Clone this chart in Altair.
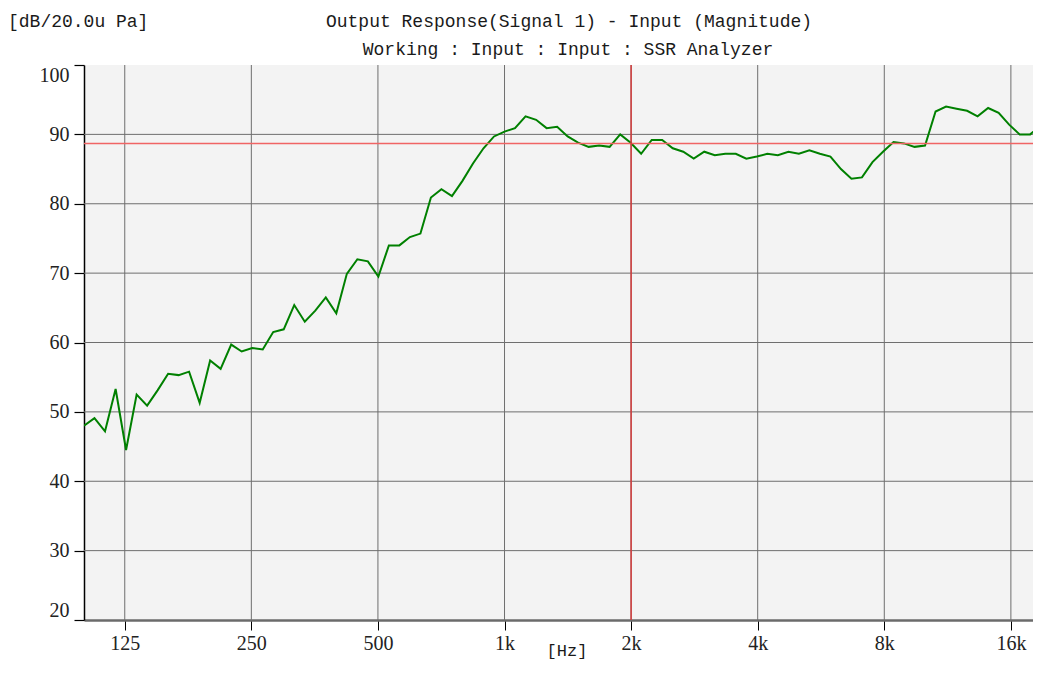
import altair as alt
import pandas as pd

# 1/12-octave analysis frequencies (Hz)
freq_hz = [100.0, 105.9, 112.2, 118.9, 125.9, 133.4, 141.3, 149.6, 158.5, 167.9,
           177.8, 188.4, 199.5, 211.3, 223.9, 237.1, 251.2, 266.1, 281.8, 298.5,
           316.2, 335.0, 354.8, 375.8, 398.1, 421.7, 446.7, 473.2, 501.2, 530.9,
           562.3, 595.7, 631.0, 668.3, 707.9, 749.9, 794.3, 841.4, 891.3, 944.1,
           1000, 1059, 1122, 1189, 1259, 1334, 1413, 1496, 1585, 1679,
           1778, 1884, 1995, 2113, 2239, 2371, 2512, 2661, 2818, 2985,
           3162, 3350, 3548, 3758, 3981, 4217, 4467, 4732, 5012, 5309,
           5623, 5957, 6310, 6683, 7079, 7499, 7943, 8414, 8913, 9441,
           10000, 10593, 11220, 11885, 12589, 13335, 14125, 14962, 15849, 16788,
           17783, 18836]

# Output level (dB re 20 uPa)
level_db = [48.0, 49.1, 47.2, 53.3, 44.5, 52.5, 50.9, 53.1, 55.5, 55.3,
            55.8, 51.3, 57.4, 56.2, 59.7, 58.7, 59.2, 59.0, 61.5, 61.9,
            65.4, 63.0, 64.6, 66.5, 64.2, 69.9, 72.0, 71.7, 69.5, 74.0,
            74.0, 75.2, 75.7, 80.9, 82.1, 81.1, 83.3, 85.8, 88.0, 89.7,
            90.4, 90.9, 92.6, 92.1, 90.9, 91.1, 89.7, 88.8, 88.2, 88.4,
            88.2, 90.0, 88.8, 87.2, 89.2, 89.2, 88.0, 87.5, 86.5, 87.5,
            87.0, 87.2, 87.2, 86.5, 86.8, 87.2, 87.0, 87.5, 87.2, 87.7,
            87.2, 86.8, 85.0, 83.6, 83.8, 86.0, 87.5, 88.9, 88.7, 88.2,
            88.4, 93.3, 94.0, 93.7, 93.4, 92.6, 93.8, 93.1, 91.4, 90.0,
            90.0, 91.3]

x_ticks = [125, 250, 500, 1000, 2000, 4000, 8000, 16000]
y_ticks = [20, 30, 40, 50, 60, 70, 80, 90, 100]
y_grid = [30, 40, 50, 60, 70, 80, 90]
ref_level = [88.7]
cursor_freq = [2000]

title_main = "Output Response(Signal 1) - Input (Magnitude)"
title_sub = "Working : Input : Input : SSR Analyzer"
y_unit = "[dB/20.0u Pa]"
x_unit = "[Hz]"

SERIF = "Liberation Serif"
MONO = "Liberation Mono"

df = pd.DataFrame({"f": freq_hz, "db": level_db})

xscale = alt.Scale(type="log", domain=[100, 18060], nice=False)
yscale = alt.Scale(domain=[20, 100], nice=False, zero=False)

xaxis = alt.Axis(
    values=x_ticks,
    labelExpr="datum.value >= 1000 ? (datum.value / 1000) + 'k' : '' + datum.value",
    grid=False, title=None,
    domainColor="#6b6b6b", domainWidth=2.5,
    tickColor="#000000", tickSize=10, tickWidth=1,
    labelFont=SERIF, labelFontSize=20, labelColor="#222222",
    labelPadding=3, labelFlush=False,
)
yaxis = alt.Axis(
    values=y_ticks,
    grid=False, title=None,
    domainColor="#000000", domainWidth=1.5,
    tickColor="#000000", tickSize=10, tickWidth=1.2,
    labelFont=SERIF, labelFontSize=20, labelColor="#222222",
    labelPadding=5, labelFlush=True, labelFlushOffset=0,
)

vgrid = alt.Chart(pd.DataFrame({"f": x_ticks})).mark_rule(
    color="#6e6e6e", strokeWidth=1
).encode(x=alt.X("f:Q", scale=xscale, axis=xaxis))

hgrid = alt.Chart(pd.DataFrame({"v": y_grid})).mark_rule(
    color="#6e6e6e", strokeWidth=1
).encode(y=alt.Y("v:Q", scale=yscale, axis=yaxis))

line = alt.Chart(df).mark_line(color="#008000", strokeWidth=2, clip=True).encode(
    x=alt.X("f:Q", scale=xscale, axis=xaxis),
    y=alt.Y("db:Q", scale=yscale, axis=yaxis),
)

ref_h = alt.Chart(pd.DataFrame({"v": ref_level})).mark_rule(
    color="#f06464", strokeWidth=1.5
).encode(y=alt.Y("v:Q", scale=yscale, axis=yaxis))

ref_v = alt.Chart(pd.DataFrame({"f": cursor_freq})).mark_rule(
    color="#d43c3c", strokeWidth=1.5
).encode(x=alt.X("f:Q", scale=xscale, axis=xaxis))

one = pd.DataFrame({"a": [0]})


def label(text, x, y, align="center", size=18):
    return alt.Chart(one).mark_text(
        text=text, font=MONO, fontSize=size, color="#1a1a1a",
        align=align, baseline="middle"
    ).encode(x=alt.value(x), y=alt.value(y))


t_unit_y = label(y_unit, -76, -43, align="left")
t_main = label(title_main, 485, -43)
t_sub = label(title_sub, 484, -15)
t_unit_x = label(x_unit, 483, 586, size=17)

chart = alt.layer(
    vgrid, hgrid, line, ref_h, ref_v, t_unit_y, t_main, t_sub, t_unit_x
).properties(
    width=949, height=555,
    autosize=alt.AutoSizeParams(type="none"),
    padding={"left": 76, "top": 57, "right": 0, "bottom": 45},
    background="#ffffff",
).configure_view(fill="#f3f3f3", stroke=None)

chart.save("out.html", embed_options={"renderer": "svg", "actions": False})
